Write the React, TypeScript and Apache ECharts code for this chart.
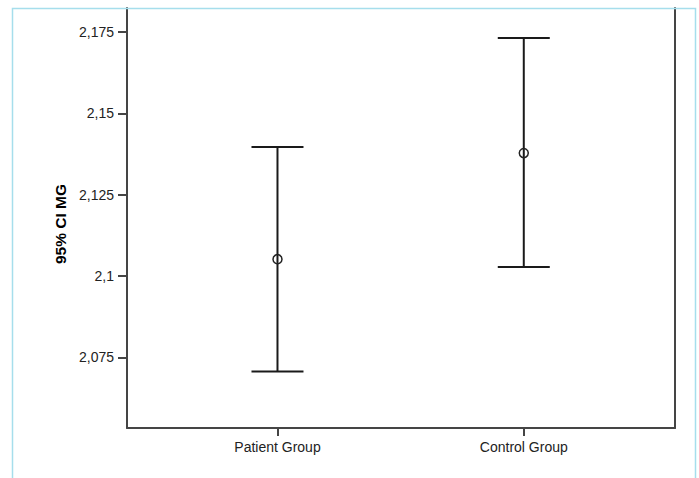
import React, { useEffect, useRef } from "react";
import * as echarts from "echarts";

const categories = ["Patient Group", "Control Group"];
const lowerCI = [2.0707, 2.1028];
const upperCI = [2.1397, 2.1732];
const means = [2.1052, 2.1378];
const yTickValues = [2.075, 2.1, 2.125, 2.15, 2.175];
const yTickLabels = ["2,075", "2,1", "2,125", "2,15", "2,175"];
const yTitle = "95% CI MG";

export default function App() {
  const ref = useRef<HTMLDivElement>(null);
  useEffect(() => {
    if (!ref.current) return;
    const chart = echarts.init(ref.current, null, { renderer: "svg" });
    const axisColor = "#454545";
    const labelStyle = { color: "#222", fontSize: 14, fontFamily: "Liberation Sans, Arial, sans-serif" };
    const yMin = 2.0533;
    const yMax = 2.1824;
    chart.setOption({
      animation: false,
      backgroundColor: "#fff",
      grid: { left: 127, top: 8, right: 24, bottom: 50 },
      xAxis: {
        type: "value",
        min: -0.611,
        max: 1.614,
        splitLine: { show: false },
        axisLine: { show: true, onZero: false, lineStyle: { color: axisColor, width: 2 } },
        axisTick: { show: true, length: 8, lineStyle: { color: axisColor, width: 2 }, customValues: [0, 1] },
        axisLabel: {
          ...labelStyle,
          margin: 12,
          customValues: [0, 1],
          formatter: (v: number) => categories[Math.round(v)] ?? "",
        },
      },
      yAxis: [
        {
          type: "value",
          min: yMin,
          max: yMax,
          position: "left",
          splitLine: { show: false },
          name: yTitle,
          nameLocation: "middle",
          nameGap: 58,
          nameRotate: 90,
          nameTextStyle: { color: "#000", fontSize: 15.5, fontWeight: "bold", fontFamily: "Liberation Sans, Arial, sans-serif", padding: [0, 12, 0, 0] },
          axisLine: { show: true, onZero: false, lineStyle: { color: axisColor, width: 2 } },
          axisTick: { show: true, length: 9, lineStyle: { color: axisColor, width: 2 }, customValues: yTickValues },
          axisLabel: {
            ...labelStyle,
            margin: 13,
            customValues: yTickValues,
            formatter: (v: number) => {
              const i = yTickValues.findIndex((t) => Math.abs(t - v) < 1e-6);
              return i >= 0 ? yTickLabels[i] : "";
            },
          },
        },
        {
          type: "value",
          position: "right",
          min: yMin,
          max: yMax,
          splitLine: { show: false },
          axisLine: { show: true, onZero: false, lineStyle: { color: axisColor, width: 2 } },
          axisTick: { show: false },
          axisLabel: { show: false },
        },
      ],
      series: [
        {
          type: "custom",
          xAxisIndex: 0,
          yAxisIndex: 0,
          data: categories.map((_, i) => [i, lowerCI[i], upperCI[i], means[i]]),
          renderItem: (params: any, api: any) => {
            const x = api.value(0);
            const lo = api.coord([x, api.value(1)]);
            const hi = api.coord([x, api.value(2)]);
            const m = api.coord([x, api.value(3)]);
            const half = 26;
            const st = { stroke: "#1a1a1a", lineWidth: 2 };
            return {
              type: "group",
              children: [
                { type: "line", shape: { x1: lo[0], y1: lo[1], x2: hi[0], y2: hi[1] }, style: st },
                { type: "line", shape: { x1: hi[0] - half, y1: hi[1], x2: hi[0] + half, y2: hi[1] }, style: st },
                { type: "line", shape: { x1: lo[0] - half, y1: lo[1], x2: lo[0] + half, y2: lo[1] }, style: st },
                { type: "circle", shape: { cx: m[0], cy: m[1], r: 4.5 }, style: { stroke: "#222", lineWidth: 1.5, fill: "none" } },
              ],
            };
          },
        },
      ],
      graphic: [
        {
          type: "rect",
          z: 100,
          shape: { x: 12.5, y: 8.5, width: 683, height: 480 },
          style: { fill: "none", stroke: "#a6deec", lineWidth: 1.5 },
        },
      ],
    });
    return () => chart.dispose();
  }, []);
  return (
    <div
      ref={ref}
      style={{ position: "absolute", left: 0, top: 0, width: 699, height: 478, background: "#fff" }}
    />
  );
}
